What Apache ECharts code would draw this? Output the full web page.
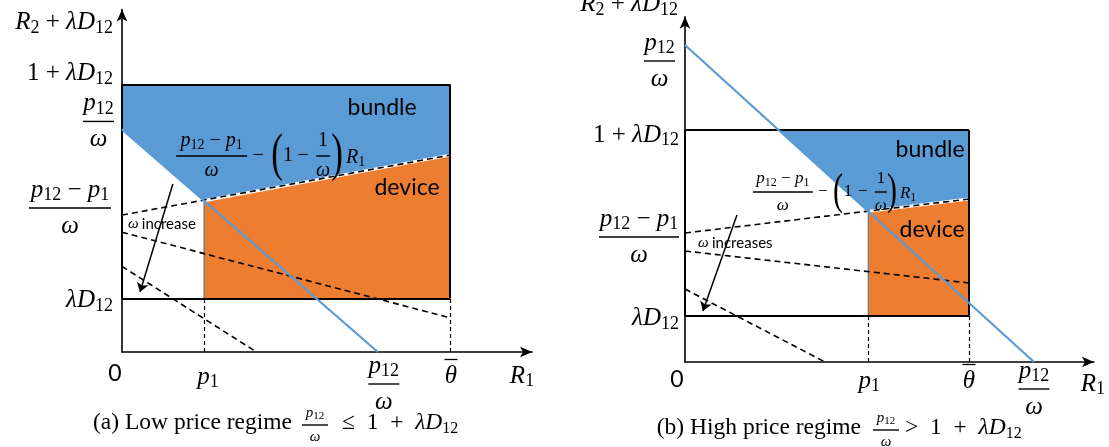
<!DOCTYPE html>
<html><head><meta charset="utf-8">
<script src="https://cdn.jsdelivr.net/npm/echarts@6/dist/echarts.min.js"></script>
<style>html,body{margin:0;padding:0;background:#fff}#c{width:1109px;height:447px}</style>
</head><body><div id="c"></div>
<script>
// ---------- panel (a): low price regime ----------
const A_xTickValues = [0, 0.25, 0.78, 1];            // 0, p1, p12/ω, θ̄
const A_xTickLabels = [{sans:'0'}, 'p_1', {n:'p_12', d:'ω'}, {o:'θ'}];
const A_yTickValues = [1.25, 1.04, 0.64, 0.25];      // 1+λD12, p12/ω, (p12−p1)/ω, λD12
const A_yTickLabels = ['1 + λD_12', {n:'p_12', d:'ω'}, {n:'p_12 − p_1', d:'ω'}, 'λD_12'];
const A_bundle = [[0,1.25],[1,1.25],[1,0.92],[0.25,0.707],[0,1.04]];
const A_device = [[0.25,0.707],[1,0.92],[1,0.25],[0.25,0.25]];
const A_priceLine = [[0,1.04],[0.78,0]];
const A_boundary = [[0,0.64],[1,0.92]];
const A_shift1 = [[0,0.56],[1,0.16]];
const A_shift2 = [[0,0.40],[0.41,0]];
const A_box = [[[0,1.25],[1,1.25]],[[1,1.25],[1,0.25]],[[0,0.25],[1,0.25]],[[0,0.25],[0,1.25]]];
const A_drops = [[[0.25,0],[0.25,0.25]],[[1,0],[1,0.25]]];
const A_arrow = [[0.155,0.785],[0.055,0.28]];
const A_range = {xMax:1.25, yMax:1.6};

// ---------- panel (b): high price regime ----------
const B_xTickValues = [0, 0.645, 1, 1.229];          // 0, p1, θ̄, p12/ω
const B_xTickLabels = [{sans:'0'}, 'p_1', {o:'θ'}, {n:'p_12', d:'ω'}];
const B_yTickValues = [1.708, 1.25, 0.695, 0.25];    // p12/ω, 1+λD12, (p12−p1)/ω, λD12
const B_yTickLabels = [{n:'p_12', d:'ω'}, '1 + λD_12', {n:'p_12 − p_1', d:'ω'}, 'λD_12'];
const B_bundle = [[0.3295,1.25],[1,1.25],[1,0.878],[0.645,0.8116]];
const B_device = [[0.645,0.8116],[1,0.878],[1,0.25],[0.645,0.25]];
const B_priceLine = [[0,1.708],[1.229,0]];
const B_boundary = [[0,0.695],[1,0.878]];
const B_shift1 = [[0,0.598],[1,0.426]];
const B_shift2 = [[0,0.393],[0.493,0]];
const B_box = [[[0,1.25],[1,1.25]],[[1,1.25],[1,0.25]],[[0,0.25],[1,0.25]],[[0,0.25],[0,1.25]]];
const B_drops = [[[0.645,0],[0.645,0.25]],[[1,0],[1,0.25]]];
const B_arrow = [[0.183,0.792],[0.063,0.275]];
const B_range = {xMax:1.44, yMax:1.86};

const AXIS_NAMES = {x:'R_1', y:'R_2 + λD_12'};
const REGION_NAMES = ['bundle', 'device'];
const CAPTIONS = [
  {pre:'(a) Low price regime', frac:{n:'p_12', d:'ω'}, post:'≤  1  +  λD_12'},
  {pre:'(b) High price regime', frac:{n:'p_12', d:'ω'}, post:'>  1  +  λD_12'}
];

// ---------- styling helpers ----------
const SERIF = '"Liberation Serif","DejaVu Serif",serif';
const SANS = 'Lato,"Open Sans",sans-serif';
const BLUE = '#5B9BD5', ORANGE = '#ED7D31', EDGE = '#41719C';
const RICH = {};
function grp(p, F){
  RICH[p+'i'] = {fontFamily:SERIF, fontStyle:'italic', fontSize:F, lineHeight:Math.round(F*1.15), align:'center'};
  RICH[p+'r'] = {fontFamily:SERIF, fontSize:F, lineHeight:Math.round(F*1.15), align:'center'};
  RICH[p+'s'] = {fontFamily:SERIF, fontSize:Math.round(F*0.7), lineHeight:Math.round(F*0.7), verticalAlign:'bottom', align:'center'};
  RICH[p+'sans'] = {fontFamily:SANS, fontSize:F-2, lineHeight:Math.round(F*1.15), align:'center'};
  RICH[p+'ob'] = {width:10, height:1.3, lineHeight:4, backgroundColor:'#000', align:'center', padding:[0,0,0,3]};
}
grp('L', 25); grp('F', 20); grp('G', 17); grp('C', 23.5); grp('K', 15); grp('W', 15);
RICH.Pa = {fontFamily:SERIF, fontSize:35, lineHeight:38, align:'center'};
RICH.Pb = {fontFamily:SERIF, fontSize:30, lineHeight:33, align:'center'};
RICH.Wt = {fontFamily:SANS, fontSize:15, lineHeight:17, align:'center'};

function rich(str, p){
  let out = '', cur = null, buf = '';
  const flush = () => { if (buf) out += `{${p}${cur}|${buf}}`; buf = ''; };
  for (let i = 0; i < str.length; i++){
    const ch = str[i]; let st, t = ch;
    if (ch === '_'){ let j = i+1; t = ''; while (j < str.length && /[0-9]/.test(str[j])){ t += str[j]; j++; } i = j-1; st = 's'; }
    else st = /[A-Za-z\u0370-\u03FF]/.test(ch) ? 'i' : 'r';
    if (st !== cur){ flush(); cur = st; }
    buf += t;
  }
  flush(); return out;
}
function spec2text(spec, p, w){
  if (typeof spec === 'string') return rich(spec, p);
  if (spec.sans) return `{${p}sans|${spec.sans}}`;
  if (spec.o) return `{${p}ob|}\n` + rich(spec.o, p);
  const bn = `${p}bar${w}`;
  RICH[bn] = {width:w, height:1.4, lineHeight:7, backgroundColor:'#000', align:'center'};
  return rich(spec.n, p) + `\n{${bn}|}\n` + rich(spec.d, p);
}
function T(x, y, text, align, vAlign, scaleY){
  const el = {type:'text', x, y, z:100, silent:true,
    style:{text, rich:RICH, align:align||'center', verticalAlign:vAlign||'middle', fill:'#000'}};
  if (scaleY) el.scaleY = scaleY;
  return el;
}

function axisPair(gi, range){
  const axisLine = {show:true, onZero:true, symbol:['none','arrow'], symbolSize:[8,12], lineStyle:{color:'#000', width:1.6}};
  return {
    x:{type:'value', gridIndex:gi, min:0, max:range.xMax, axisLine, axisTick:{show:false}, axisLabel:{show:false}, splitLine:{show:false}},
    y:{type:'value', gridIndex:gi, min:0, max:range.yMax, axisLine, axisTick:{show:false}, axisLabel:{show:false}, splitLine:{show:false}}
  };
}
function polySeries(gi, pts, fill){
  return {type:'custom', xAxisIndex:gi, yAxisIndex:gi, silent:true, z:1, data:[pts[0]],
    renderItem:(params, api) => ({type:'polygon', shape:{points:pts.map(q => api.coord(q))},
      style:{fill, stroke:EDGE, lineWidth:1}})};
}
function segSeries(gi, segs, style, z, arrow){
  return {type:'lines', coordinateSystem:'cartesian2d', xAxisIndex:gi, yAxisIndex:gi, silent:true, z,
    symbol: arrow ? ['none','arrow'] : ['none','none'], symbolSize: 9,
    lineStyle: Object.assign({opacity:1}, style), data: segs.map(s => ({coords:s}))};
}
function panelSeries(gi, P){
  return [
    polySeries(gi, P.bundle, BLUE),
    polySeries(gi, P.device, ORANGE),
    segSeries(gi, [[P.device[0], P.device[1]]], {color:'#fff', width:3}, 3),
    segSeries(gi, [P.boundary, P.shift1, P.shift2], {color:'#000', width:1.6, type:[6,4]}, 4),
    segSeries(gi, P.drops, {color:'#000', width:1.2, type:[4,3]}, 4),
    segSeries(gi, P.box, {color:'#000', width:2}, 5),
    segSeries(gi, [P.priceLine], {color:BLUE, width:2.2}, 6),
    segSeries(gi, [P.arrow], {color:'#000', width:1.5}, 7, true)
  ];
}

const PA = {bundle:A_bundle, device:A_device, priceLine:A_priceLine, boundary:A_boundary, shift1:A_shift1, shift2:A_shift2, box:A_box, drops:A_drops, arrow:A_arrow};
const PB = {bundle:B_bundle, device:B_device, priceLine:B_priceLine, boundary:B_boundary, shift1:B_shift1, shift2:B_shift2, box:B_box, drops:B_drops, arrow:B_arrow};
const axA = axisPair(0, A_range), axB = axisPair(1, B_range);

const chart = echarts.init(document.getElementById('c'), null, {renderer:'canvas'});
chart.setOption({
  animation:false,
  backgroundColor:'#fff',
  grid:[
    {left:122, top:352 - A_range.yMax*214, width:A_range.xMax*328, height:A_range.yMax*214},
    {left:685, top:362 - B_range.yMax*185.6, width:B_range.xMax*284, height:B_range.yMax*185.6}
  ],
  xAxis:[axA.x, axB.x],
  yAxis:[axA.y, axB.y],
  series:[...panelSeries(0, PA), ...panelSeries(1, PB)]
});

// ---------- text layer, placed through the axes' scales ----------
const px = (gi, pt) => chart.convertToPixel({gridIndex:gi}, pt);
const layouts = [
  {gi:0, range:A_range, xv:A_xTickValues, xl:A_xTickLabels, yv:A_yTickValues, yl:A_yTickLabels,
   yOff:[[-9,-11],[-8,-8],[-11,-7],[-9,2]], yW:[0,31,82,0],
   xOff:[[-7,22],[4,25],[6,32],[1,22]], xW:[0,0,31,0],
   nameX:[-10,24], nameY:[-9,13],
   regions:[[0.793,1.14],[0.869,0.766]],
   incr:{pt:[0.018,0.598], text:'increase'},
   formula:{pt:[0.165,0.916], p:'F', paren:'Pa', ps:1.5, w1:71, w2:14, d:[35.5,82,101,112,127,147,161,170]}},
  {gi:1, range:B_range, xv:B_xTickValues, xl:B_xTickLabels, yv:B_yTickValues, yl:B_yTickLabels,
   yOff:[[-10,16],[-6,5],[-6,4],[-6,3]], yW:[31,0,80,0],
   xOff:[[-8,18],[1,19],[0,17],[0,27]], xW:[0,0,0,31],
   nameX:[-1,22], nameY:[-7,-12],
   regions:[[0.863,1.142],[0.870,0.711]],
   incr:{pt:[0.046,0.641], text:'increases'},
   formula:{pt:[0.239,0.916], p:'G', paren:'Pb', ps:1.5, w1:60, w2:12, d:[30,70,85,95,110,128,139,147]}}
];
const G = [];
layouts.forEach(L => {
  L.yv.forEach((v, k) => { const q = px(L.gi, [0, v]);
    G.push(T(q[0] + L.yOff[k][0], q[1] + L.yOff[k][1], spec2text(L.yl[k], 'L', L.yW[k]), 'right')); });
  L.xv.forEach((v, k) => { const q = px(L.gi, [v, 0]);
    G.push(T(q[0] + L.xOff[k][0], q[1] + L.xOff[k][1], spec2text(L.xl[k], 'L', L.xW[k]), 'center')); });
  let q = px(L.gi, [L.range.xMax, 0]);
  G.push(T(q[0] + L.nameX[0], q[1] + L.nameX[1], rich(AXIS_NAMES.x, 'L'), 'center'));
  q = px(L.gi, [0, L.range.yMax]);
  G.push(T(q[0] + L.nameY[0], q[1] + L.nameY[1], rich(AXIS_NAMES.y, 'L'), 'right'));
  L.regions.forEach((r, k) => { const c = px(L.gi, r);
    G.push({type:'text', x:c[0], y:c[1], z:100, silent:true,
      style:{text:REGION_NAMES[k], fontFamily:SANS, fontSize:23, fill:'#000', align:'center', verticalAlign:'middle'}}); });
  q = px(L.gi, L.incr.pt);
  G.push(T(q[0], q[1], `{Wi|ω} {Wt|${L.incr.text}}`, 'left'));
  // formula (p12 − p1)/ω − (1 − 1/ω) R1
  const F = L.formula, a = px(L.gi, F.pt), p = F.p, d = F.d;
  G.push(T(a[0] + d[0], a[1], spec2text({n:'p_12 − p_1', d:'ω'}, p, F.w1), 'center'));
  G.push(T(a[0] + d[1], a[1], rich('−', p), 'center'));
  G.push(T(a[0] + d[2], a[1], `{${F.paren}|(}`, 'center', 'middle', F.ps));
  G.push(T(a[0] + d[3], a[1], rich('1', p), 'center'));
  G.push(T(a[0] + d[4], a[1], rich('−', p), 'center'));
  G.push(T(a[0] + d[5], a[1], spec2text({n:'1', d:'ω'}, p, F.w2), 'center'));
  G.push(T(a[0] + d[6], a[1], `{${F.paren}|)}`, 'center', 'middle', F.ps));
  G.push(T(a[0] + d[7], a[1] + 2, rich('R_1', p), 'left'));
});
// captions
const capPos = [{c:315, y:423, pre:-23, post:27}, {c:886, y:428, pre:-25, post:19}];
CAPTIONS.forEach((c, k) => {
  const P = capPos[k];
  G.push(T(P.c + P.pre, P.y, `{Cr|${c.pre}}`, 'right'));
  G.push(T(P.c, P.y + 2, spec2text(c.frac, 'K', 26), 'center'));
  G.push(T(P.c + P.post, P.y, rich(c.post, 'C'), 'left'));
});
chart.setOption({graphic:{elements:G}});
</script></body></html>
